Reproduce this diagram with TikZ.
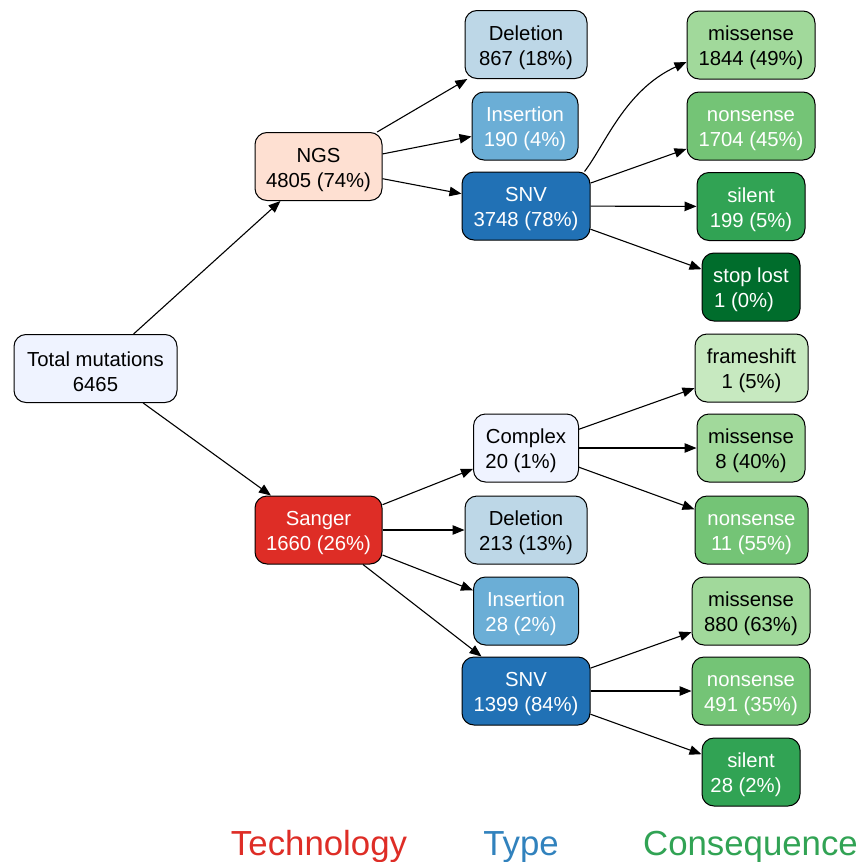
\documentclass[tikz,border=0pt]{standalone}
\usepackage{fontspec}
\setmainfont{Liberation Sans}
\usetikzlibrary{arrows.meta}
\definecolor{totalc}{HTML}{EFF3FF}
\definecolor{ngsc}{HTML}{FEE0D2}
\definecolor{sangerc}{HTML}{DE2D26}
\definecolor{complexc}{HTML}{EFF3FF}
\definecolor{delc}{HTML}{BDD7E7}
\definecolor{insc}{HTML}{6BAED6}
\definecolor{snvc}{HTML}{2171B5}
\definecolor{fsc}{HTML}{C7E9C0}
\definecolor{missc}{HTML}{A1D99B}
\definecolor{nonsc}{HTML}{74C476}
\definecolor{silc}{HTML}{31A354}
\definecolor{stopc}{HTML}{006D2C}
\definecolor{typec}{HTML}{3182BD}
\newcommand{\topstrut}{\rule{0pt}{21pt}}
\begin{document}
\begin{tikzpicture}[x=1pt,y=-1pt,
  box/.style={draw=black, line width=1pt, rounded corners=12pt, minimum height=68pt,
    align=center, inner sep=0pt, font=\fontsize{20.3}{25}\selectfont},
  wt/.style={text=white},
  edge/.style={draw=black, line width=1.1pt, -{Triangle[length=12pt,width=9.5pt]}},
  legend/.style={anchor=base, font=\fontsize{34.8}{40}\selectfont}]
\useasboundingbox (0,0) rectangle (862,862);

% technology
\node[box, fill=totalc, minimum width=163pt] (total) at (95.5,368.5) {\topstrut Total mutations\\6465};
\node[box, fill=ngsc, minimum width=127pt] (ngs) at (318.5,166.5) {\topstrut NGS\\4805 (74\%)};
\node[box, fill=sangerc, wt, minimum width=127pt] (sanger) at (318.5,530) {\topstrut Sanger\\1660 (26\%)};

% NGS types
\node[box, fill=delc, minimum width=122pt] (dela) at (526,44.5) {\topstrut Deletion\\867 (18\%)};
\node[box, fill=insc, wt, minimum width=106pt] (insa) at (525,126) {\topstrut Insertion\\190 (4\%)};
\node[box, fill=snvc, wt, minimum width=128pt] (snva) at (526,206) {\topstrut SNV\\3748 (78\%)};

% NGS SNV consequences
\node[box, fill=missc, minimum width=128pt] (missa) at (751,45) {\topstrut missense\\1844 (49\%)};
\node[box, fill=nonsc, wt, minimum width=128pt] (nonsa) at (751,126) {\topstrut nonsense\\1704 (45\%)};
\node[box, fill=silc, wt, minimum width=108pt] (sila) at (751,206.5) {\topstrut silent\\199 (5\%)};
\node[box, fill=stopc, wt, minimum width=98pt] (stopa) at (751,287) {\topstrut stop lost\\1 (0\%)\hspace*{14pt}};

% Sanger types
\node[box, fill=complexc, minimum width=105pt] (compb) at (526,448) {\topstrut Complex\\20 (1\%)\hspace*{10pt}};
\node[box, fill=delc, minimum width=122pt] (delb) at (526,530) {\topstrut Deletion\\213 (13\%)};
\node[box, fill=insc, wt, minimum width=105pt] (insb) at (526,611) {\topstrut Insertion\\28 (2\%)\hspace*{10pt}};
\node[box, fill=snvc, wt, minimum width=128pt] (snvb) at (526,691) {\topstrut SNV\\1399 (84\%)};

% Complex consequences
\node[box, fill=fsc, minimum width=113pt] (fsb) at (751.5,368) {\topstrut frameshift\\1 (5\%)};
\node[box, fill=missc, minimum width=108pt] (missb) at (751,448) {\topstrut missense\\8 (40\%)};
\node[box, fill=nonsc, wt, minimum width=113pt] (nonsb) at (751.5,530) {\topstrut nonsense\\11 (55\%)};

% Sanger SNV consequences
\node[box, fill=missc, minimum width=118pt] (missc) at (751,611) {\topstrut missense\\880 (63\%)};
\node[box, fill=nonsc, wt, minimum width=118pt] (nonsc) at (751,691) {\topstrut nonsense\\491 (35\%)};
\node[box, fill=silc, wt, minimum width=98pt] (silc) at (751,772) {\topstrut silent\\28 (2\%)\hspace*{10pt}};

% edges
\draw[edge] (total) -- (ngs);
\draw[edge] (total) -- (sanger);
\draw[edge] (ngs) -- (dela);
\draw[edge] (ngs) -- (insa);
\draw[edge] (ngs) -- (snva);
\draw[edge] ([xshift=-6pt]snva.north east) .. controls (605,145) and (625,90) .. ([yshift=-17pt]missa.west);
\draw[edge] (snva) -- (nonsa);
\draw[edge] (snva) -- (sila);
\draw[edge] (snva) -- (stopa);
\draw[edge] (sanger) -- (compb);
\draw[edge] (sanger) -- (delb);
\draw[edge] (sanger) -- (insb);
\draw[edge] (sanger) -- (snvb);
\draw[edge] (compb) -- (fsb);
\draw[edge] (compb) -- (missb);
\draw[edge] (compb) -- (nonsb);
\draw[edge] (snvb) -- (missc);
\draw[edge] (snvb) -- (nonsc);
\draw[edge] (snvb) -- (silc);

% legend
\node[legend, text=sangerc] (legtech) at (319,855) {Technology};
\node[legend, text=typec] (legtype) at (521,855) {Type};
\node[legend, text=silc] (legcons) at (750.5,855) {Consequence};
\end{tikzpicture}
\end{document}
